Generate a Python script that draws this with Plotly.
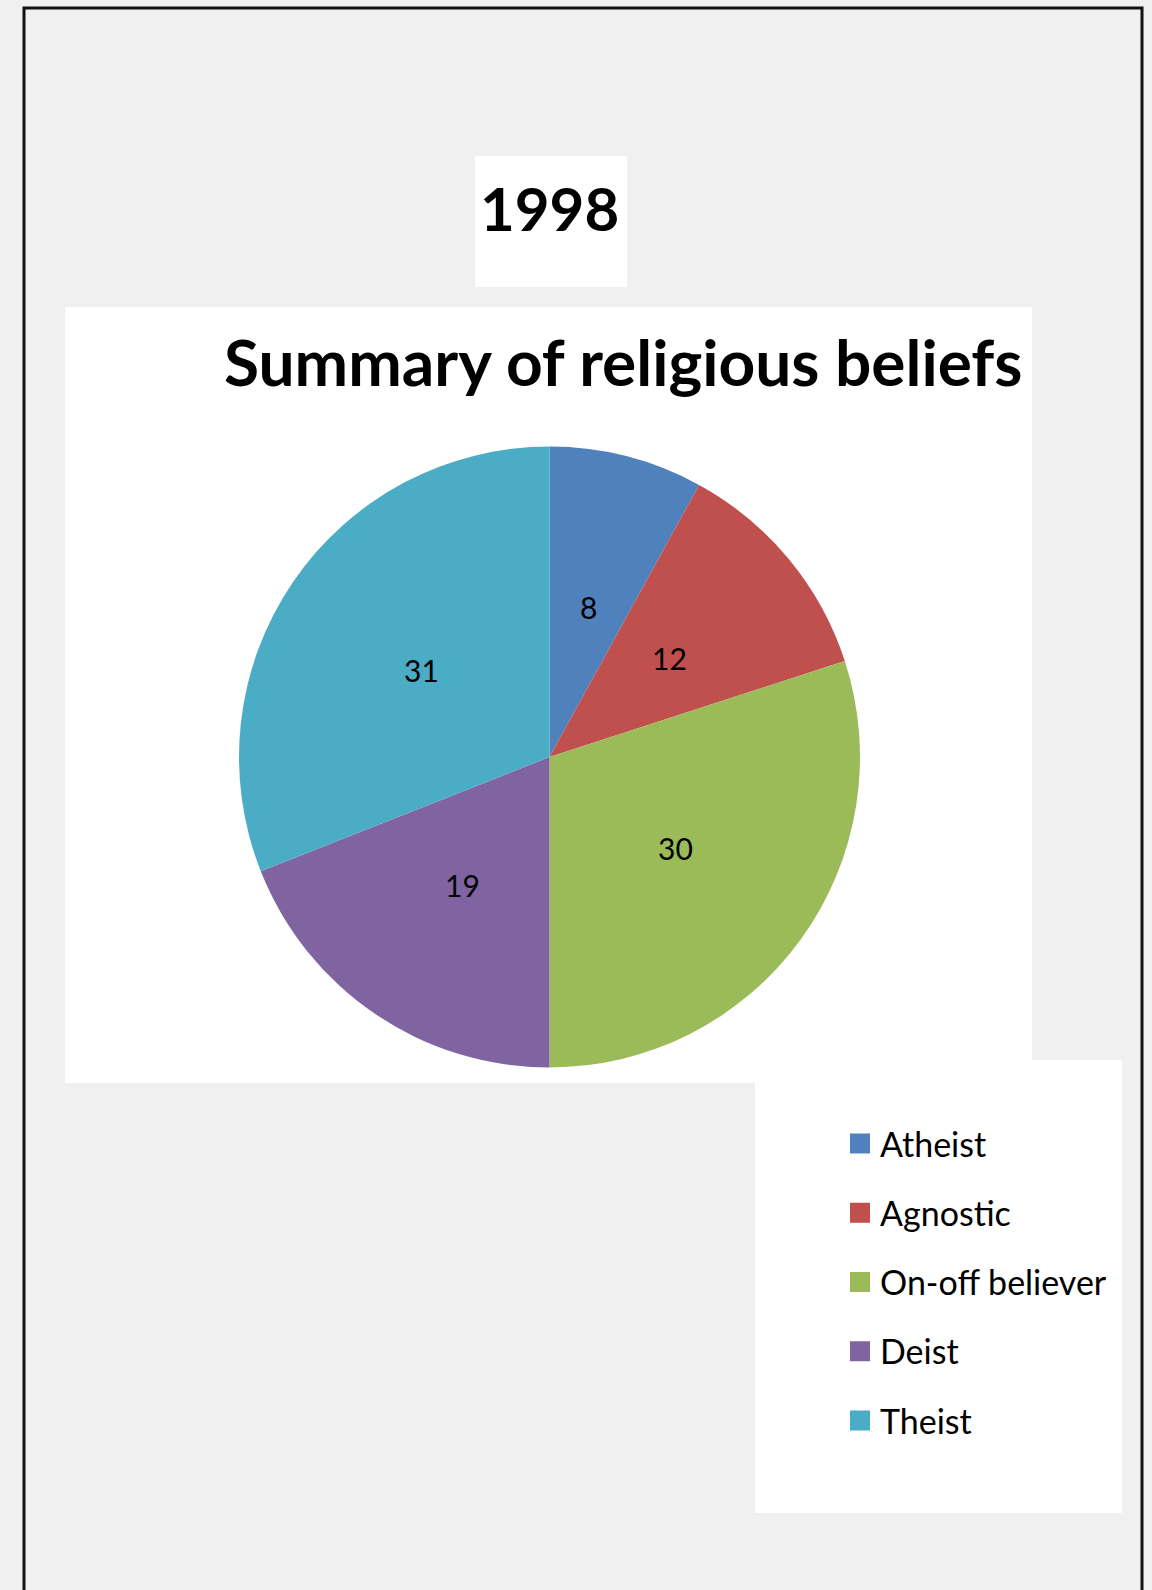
import math
import plotly.graph_objects as go

# ---- data ----
categories = ["Atheist", "Agnostic", "On-off believer", "Deist", "Theist"]
values = [8, 12, 30, 19, 31]
colors = ["#4F81BD", "#C0504D", "#9BBB59", "#8064A2", "#4BACC6"]
year_label = "1998"
chart_title = "Summary of religious beliefs"

W, H = 1152, 1590
FONT = "Lato, 'Open Sans', sans-serif"


def px(x):
    return x / W


def py(y):
    return 1 - y / H


# pie geometry (pixels)
PIE_X0, PIE_X1 = 239, 860
PIE_Y0, PIE_Y1 = 446.5, 1067.5
CX, CY = (PIE_X0 + PIE_X1) / 2, (PIE_Y0 + PIE_Y1) / 2
R = (PIE_X1 - PIE_X0) / 2

fig = go.Figure()

fig.add_trace(go.Pie(
    labels=categories,
    values=values,
    marker=dict(colors=colors, line=dict(width=0)),
    sort=False,
    direction="clockwise",
    rotation=0,
    textinfo="none",
    showlegend=False,
    hoverinfo="label+value",
    domain=dict(x=[px(PIE_X0), px(PIE_X1)], y=[py(PIE_Y1), py(PIE_Y0)]),
))

# legend entries built from categories/colors
for i, (c, col) in enumerate(zip(categories, colors)):
    fig.add_trace(go.Scatter(
        x=[None], y=[None], mode="markers", name=c,
        legendgroup=f"g{i}",
        marker=dict(symbol="square", size=16, color=col,
                    line=dict(width=4, color=col)),
        hoverinfo="skip",
    ))

shapes = [
    dict(type="rect", xref="paper", yref="paper",
         x0=px(24), x1=px(1142), y0=py(1620), y1=py(8),
         line=dict(color="#111111", width=3), fillcolor="rgba(0,0,0,0)",
         layer="above"),
    dict(type="rect", xref="paper", yref="paper",
         x0=px(475), x1=px(627), y0=py(287), y1=py(156),
         line=dict(width=0), fillcolor="white", layer="below"),
    dict(type="rect", xref="paper", yref="paper",
         x0=px(65), x1=px(1032), y0=py(1083), y1=py(307),
         line=dict(width=0), fillcolor="white", layer="below"),
    dict(type="rect", xref="paper", yref="paper",
         x0=px(755), x1=px(1122), y0=py(1513), y1=py(1060),
         line=dict(width=0), fillcolor="white", layer="below"),
]

annotations = [
    dict(text=f"<b>{year_label}</b>", xref="paper", yref="paper",
         x=px(549), y=py(208), xanchor="center", yanchor="middle",
         showarrow=False, font=dict(family=FONT, size=60, color="#000000")),
    dict(text=f"<b>{chart_title}</b>", xref="paper", yref="paper",
         x=px(623), y=py(362), xanchor="center", yanchor="middle",
         showarrow=False, font=dict(family=FONT, size=64, color="#000000")),
]

# data labels at half radius, mid-angle of each slice (clockwise from 12 o'clock)
total = sum(values)
cum = 0
for v in values:
    mid = (cum + v / 2) / total * 2 * math.pi
    cum += v
    lx = CX + 0.5 * R * math.sin(mid)
    ly = CY - 0.5 * R * math.cos(mid)
    annotations.append(dict(
        text=str(v), xref="paper", yref="paper",
        x=px(lx), y=py(ly), xanchor="center", yanchor="middle",
        showarrow=False, font=dict(family=FONT, size=30, color="#000000")))

fig.update_layout(
    width=W, height=H,
    margin=dict(l=0, r=0, t=0, b=0, pad=0),
    paper_bgcolor="#F0F0F0",
    plot_bgcolor="rgba(0,0,0,0)",
    xaxis=dict(visible=False),
    yaxis=dict(visible=False),
    shapes=shapes,
    annotations=annotations,
    showlegend=True,
    legend=dict(
        x=px(840), y=py(1115), xanchor="left", yanchor="top",
        bgcolor="rgba(0,0,0,0)", borderwidth=0,
        font=dict(family=FONT, size=34, color="#000000"),
        tracegroupgap=22, traceorder="grouped",
        itemsizing="trace",
    ),
)

fig.write_html("out.html", include_plotlyjs=True,
               config=dict(displayModeBar=False),
               post_script="document.body.style.margin='0';")
